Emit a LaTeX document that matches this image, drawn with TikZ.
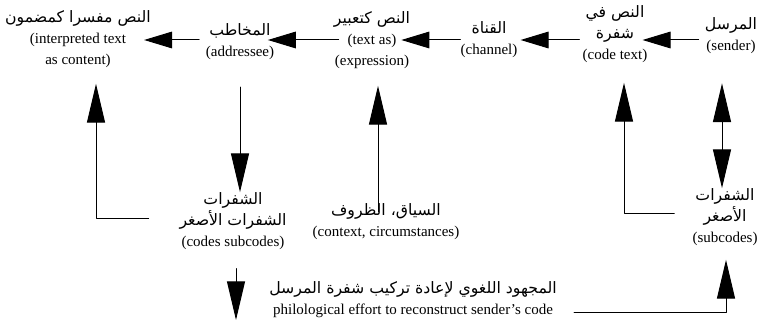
\documentclass[tikz,border=0pt]{standalone}
\usepackage{fontspec}
\setmainfont{Liberation Serif}
\newfontfamily\arabicfont[Script=Arabic]{DejaVu Sans}
\TeXXeTstate=1
\usetikzlibrary{arrows.meta}
\newcommand{\artxt}[1]{{\arabicfont\fontsize{11.8}{15.75}\selectfont\beginR #1\endR}}

\begin{document}
\begin{tikzpicture}[line cap=round,line join=round,x=0.75pt,y=-0.75pt,
	lbl/.style={align=center,inner sep=0pt,font=\fontsize{11.25}{15.75}\selectfont},
	harr/.style={line width=0.75pt,-{Triangle[length=21pt,width=12.5pt]}},
	varr/.style={line width=0.75pt,-{Triangle[length=29pt,width=13.5pt]}},
	darr/.style={line width=0.75pt,{Triangle[length=29pt,width=13.5pt]}-{Triangle[length=29pt,width=13.5pt]}}]
	\useasboundingbox (0,0) rectangle (757,320);
	\node[lbl] (sender) at (731,36) {\artxt{المرسل}\\(sender)};
	\node[lbl] (codetext) at (615,34) {\artxt{النص في}\\\artxt{شفرة}\\(code text)};
	\node[lbl] (channel) at (489,40) {\artxt{القناة}\\(channel)};
	\node[lbl] (textas) at (372,40) {\artxt{النص كتعبير}\\(text as)\\(expression)};
	\node[lbl] (addressee) at (240,42) {\artxt{المخاطب}\\(addressee)};
	\node[lbl] (interp) at (78,39) {\artxt{النص مفسرا كمضمون}\\(interpreted text\\as content)};
	\node[lbl] (codes) at (233,221) {\artxt{الشفرات}\\\artxt{الشفرات الأصغر}\\(codes subcodes)};
	\node[lbl] (context) at (386,222) {\artxt{السياق، الظروف}\\(context, circumstances)};
	\node[lbl] (subcodes) at (725,217) {\artxt{الشفرات}\\\artxt{الأصغر}\\(subcodes)};
	\node[lbl] (effort) at (413,300) {\artxt{المجهود اللغوي لإعادة تركيب شفرة المرسل}\\philological effort to reconstruct sender's code};
	\coordinate (row) at (0,40);
	\coordinate (bendA) at (96,219);
	\coordinate (bendB) at (624,214);
	\coordinate (bendC) at (726,313);
	\coordinate (codesout) at (236,320);
	\draw[harr,shorten <=4.5pt,shorten >=-3.75pt] (sender.west |- row) -- (codetext.east |- row);
	\draw[harr,shorten <=2.25pt,shorten >=2.25pt] (codetext.west |- row) -- (channel.east |- row);
	\draw[harr,shorten >=-6.75pt] (channel.west |- row) -- (textas.east |- row);
	\draw[harr,shorten <=-3.75pt,shorten >=-4.9pt] (textas.west |- row) -- (addressee.east |- row);
	\draw[harr,shorten <=4.9pt,shorten >=-5.25pt] (addressee.west |- row) -- (interp.east |- row);
	\draw[varr,shorten <=20pt] (addressee.south) -- (addressee.south |- codes.north);
	\draw[varr,shorten <=-6pt,shorten >=12.75pt] ([xshift=-6pt]context.north) -- ([xshift=-6pt]context.north |- textas.south);
	\draw[varr,shorten <=23pt,shorten >=12pt] (codes.west |- bendA) -- (bendA) -- (bendA |- interp.south);
	\draw[varr,shorten <=13.5pt,shorten >=15pt] (subcodes.west |- bendB) -- (bendB) -- (bendB |- codetext.south);
	\draw[darr,shorten <=21.75pt] ([xshift=-6.75pt]sender.south) -- ([xshift=-6.75pt]sender.south |- subcodes.north);
	\draw[varr,shorten <=12.75pt,shorten >=10.5pt] (effort.east |- bendC) -- (bendC) -- (bendC |- subcodes.south);
	\draw[varr,shorten <=14pt] (codes.south -| codesout) -- (codesout);
\end{tikzpicture}
\end{document}
